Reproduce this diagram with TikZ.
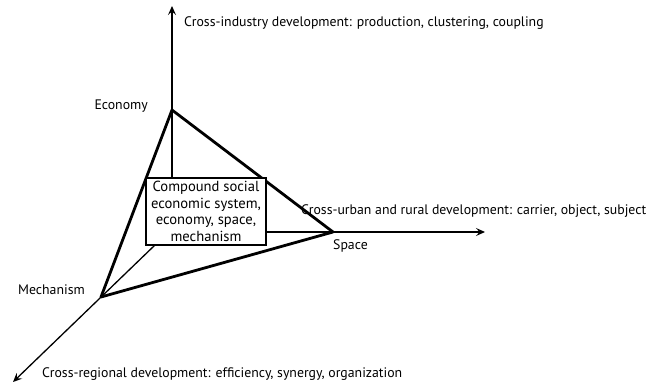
\documentclass[tikz,border=0pt]{standalone}
\usepackage{fontspec}
\setmainfont{PT Sans}
\usetikzlibrary{positioning}
\usetikzlibrary{arrows.meta,calc}

\begin{document}
\begin{tikzpicture}[x=1pt, y=-1pt,
  every node/.style = {font=\fontsize{13.8}{16.5}\selectfont, inner sep=0pt},
  axis/.style = {draw, line width=1.3pt, -{Stealth[length=9pt,width=8pt,inset=3.5pt]}},
  side/.style = {draw, line width=2.8pt, line join=round},
  sysbox/.style = {draw, line width=1.2pt, fill=white, align=center,
    minimum width=120pt, minimum height=67pt,
    font=\fontsize{14.6}{16.6}\selectfont}
  ]
  \useasboundingbox (0,0) rectangle (668,385);
  % vertices of the triangle
  \coordinate (eco) at (172,110);
  \coordinate (spa) at (333,232);
  \coordinate (mec) at (101,297);
  % axis ends
  \coordinate (topend) at (172,6);
  \coordinate (rightend) at (485,232);
  \coordinate (leftend) at (13,382);
  \coordinate (diagstart) at (155,245);
  \draw[side] (eco) -- (spa) -- (mec) -- cycle;
  \node[sysbox] (sys) at (206,211.5) {Compound social\\economic system,\\economy, space,\\mechanism};
  \draw[axis] (sys.north -| eco) -- (topend);
  \draw[axis] (sys.east |- spa) -- (rightend);
  \draw[axis] (diagstart) -- (leftend);
  % labels
  \node[anchor=west] (indlab) at (184,23) {Cross-industry development: production, clustering, coupling};
  \node[anchor=east] (ecolab) at (148,106) {Economy};
  \node[anchor=west] (urblab) at (301,211) {Cross-urban and rural development: carrier, object, subject};
  \node[anchor=west] (spalab) at (333,246) {Space};
  \node[anchor=east] (meclab) at (85,290) {Mechanism};
  \node[anchor=west] (reglab) at (42,374) {Cross-regional development: efficiency, synergy, organization};
\end{tikzpicture}
\end{document}
